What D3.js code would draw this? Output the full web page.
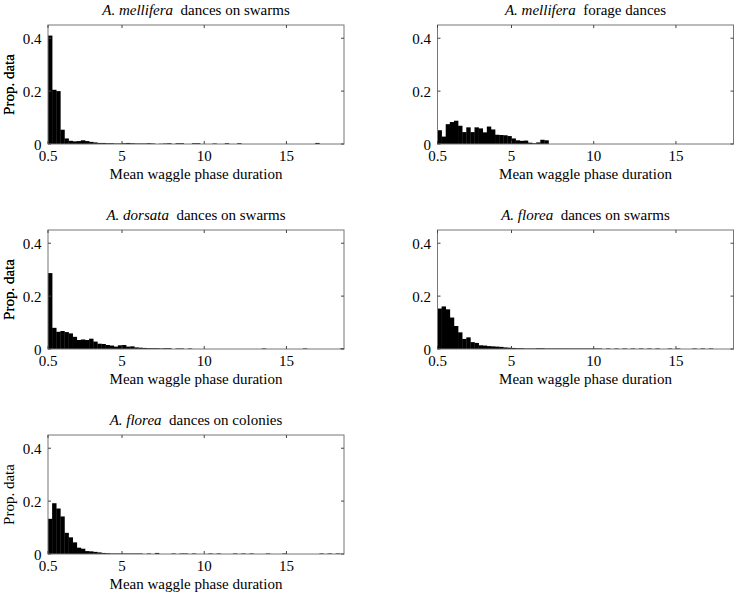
<!DOCTYPE html>
<html>
<head>
<meta charset="utf-8">
<script src="https://cdn.jsdelivr.net/npm/d3@7"></script>
<style>
  body { margin: 0; background: #fff; }
  svg text { font-family: "Liberation Serif", "DejaVu Serif", serif; fill: #000; }
</style>
</head>
<body>
<svg id="chart" width="737" height="597"></svg>
<script>
// histogram bins: 0.25 wide, starting at 0.5 (72 bins up to 18.5)
var binStart = 0.5, binWidth = 0.25;

var xTicks = [0.5, 5, 10, 15];
var yTicks = [0, 0.2, 0.4];
var yTickLabels = ['0', '0.2', '0.4'];

var melliferaSwarms = [
  0.41, 0.205, 0.20, 0.054, 0.021, 0.012, 0.010, 0.011, 0.014, 0.011,
  0.008, 0.006, 0.004, 0.004, 0.003, 0.003, 0.002, 0.002, 0.003, 0.004,
  0.003, 0.002, 0.002, 0.002, 0.003, 0.002, 0, 0.001, 0.002, 0.003,
  0, 0.003, 0.003, 0, 0, 0.003, 0.003, 0, 0, 0,
  0.002, 0, 0, 0.003, 0, 0, 0.003, 0, 0, 0,
  0, 0, 0, 0, 0, 0, 0, 0, 0, 0,
  0, 0, 0, 0, 0, 0.004, 0, 0, 0, 0,
  0, 0
];
var melliferaForage = [
  0.052, 0.028, 0.075, 0.083, 0.088, 0.069, 0.045, 0.063, 0.045, 0.063,
  0.059, 0.044, 0.066, 0.055, 0.035, 0.034, 0.033, 0.030, 0.021, 0.014,
  0.012, 0.013, 0.005, 0.003, 0.006, 0.016, 0.014, 0, 0, 0,
  0, 0, 0, 0, 0, 0, 0, 0, 0, 0,
  0, 0, 0, 0, 0, 0, 0, 0, 0, 0,
  0, 0, 0, 0, 0, 0, 0, 0, 0, 0,
  0, 0, 0, 0, 0, 0, 0, 0, 0, 0,
  0, 0
];
var dorsataSwarms = [
  0.287, 0.080, 0.065, 0.068, 0.064, 0.059, 0.046, 0.034, 0.036, 0.034,
  0.039, 0.028, 0.020, 0.019, 0.015, 0.013, 0.009, 0.014, 0.015, 0.009,
  0.010, 0.006, 0.005, 0.004, 0.003, 0.003, 0.003, 0.002, 0.003, 0.003,
  0, 0.002, 0.002, 0, 0.002, 0, 0, 0, 0, 0,
  0, 0, 0, 0, 0, 0, 0, 0, 0, 0,
  0, 0, 0.002, 0, 0, 0, 0, 0, 0, 0,
  0, 0, 0.002, 0, 0, 0, 0, 0, 0, 0,
  0, 0.002
];
var floreaSwarms = [
  0.153, 0.161, 0.150, 0.119, 0.087, 0.063, 0.038, 0.044, 0.026, 0.023,
  0.014, 0.013, 0.011, 0.010, 0.009, 0.008, 0.006, 0.005, 0.004, 0.003,
  0.003, 0.002, 0.002, 0.002, 0.003, 0.003, 0.002, 0.002, 0.002, 0.002,
  0.002, 0.002, 0.002, 0.002, 0.002, 0.002, 0.002, 0.002, 0.002, 0.002,
  0, 0.002, 0, 0.002, 0, 0.002, 0, 0.002, 0, 0.002,
  0, 0.002, 0, 0.002, 0, 0, 0.002, 0, 0.002, 0,
  0, 0, 0.002, 0, 0.002, 0, 0.002, 0, 0, 0,
  0, 0
];
var floreaColonies = [
  0.133, 0.192, 0.172, 0.142, 0.080, 0.063, 0.044, 0.024, 0.020, 0.011,
  0.010, 0.008, 0.006, 0.004, 0.003, 0.002, 0.002, 0.002, 0.002, 0.002,
  0.002, 0.002, 0.002, 0, 0.002, 0, 0.004, 0, 0, 0,
  0.002, 0, 0.002, 0.002, 0, 0.002, 0, 0, 0, 0.002,
  0, 0.002, 0, 0, 0, 0.002, 0, 0.002, 0, 0.002,
  0, 0, 0, 0.002, 0, 0, 0, 0.002, 0, 0,
  0, 0, 0, 0, 0, 0, 0.002, 0, 0.002, 0,
  0.002, 0
];

var panels = [
  {species: 'A. mellifera', rest: 'dances on swarms', values: melliferaSwarms, col: 0, row: 0},
  {species: 'A. mellifera', rest: 'forage dances', values: melliferaForage, col: 1, row: 0},
  {species: 'A. dorsata', rest: 'dances on swarms', values: dorsataSwarms, col: 0, row: 1},
  {species: 'A. florea', rest: 'dances on swarms', values: floreaSwarms, col: 1, row: 1},
  {species: 'A. florea', rest: 'dances on colonies', values: floreaColonies, col: 0, row: 2}
];

var colLeft = [48, 437.5];
var rowBottom = [144, 349, 554];
var w = 296, h = 119;
var tick = 3;

var svg = d3.select('#chart');

panels.forEach(function(p) {
  var left = colLeft[p.col];
  var top = rowBottom[p.row] - h;

  var x = d3.scaleLinear().domain([0.5, 18.5]).range([0, w]);
  var y = d3.scaleLinear().domain([0, 0.45]).range([h, 0]);

  var g = svg.append('g').attr('transform', 'translate(' + left + ',' + top + ')');

  // bars
  g.selectAll('rect.bar').data(p.values).enter().append('rect')
    .attr('class', 'bar')
    .attr('x', function(d, i) { return x(binStart + i * binWidth); })
    .attr('width', function(d, i) { return x(binStart + (i + 1) * binWidth) - x(binStart + i * binWidth) + 0.3; })
    .attr('y', function(d) { return y(d); })
    .attr('height', function(d) { return h - y(d); })
    .style('fill', '#000');

  // box
  g.append('rect')
    .attr('x', 0).attr('y', 0).attr('width', w).attr('height', h)
    .style('fill', 'none').style('stroke', '#777').style('stroke-width', 1);

  // inward ticks on all sides (matlab style)
  xTicks.forEach(function(t) {
    g.append('line').attr('x1', x(t)).attr('x2', x(t)).attr('y1', h).attr('y2', h - tick)
      .style('stroke', '#444');
    g.append('line').attr('x1', x(t)).attr('x2', x(t)).attr('y1', 0).attr('y2', tick)
      .style('stroke', '#444');
    g.append('text').attr('x', x(t)).attr('y', h + 17)
      .attr('text-anchor', 'middle').style('font-size', '15px').text(t);
  });
  yTicks.forEach(function(t, i) {
    g.append('line').attr('x1', 0).attr('x2', tick).attr('y1', y(t)).attr('y2', y(t))
      .style('stroke', '#444');
    g.append('line').attr('x1', w).attr('x2', w - tick).attr('y1', y(t)).attr('y2', y(t))
      .style('stroke', '#444');
    g.append('text').attr('x', -6.5).attr('y', y(t) + 5.5)
      .attr('text-anchor', 'end').style('font-size', '15px').text(yTickLabels[i]);
  });

  // labels
  g.append('text').attr('x', w / 2).attr('y', h + 34.5)
    .attr('text-anchor', 'middle').style('font-size', '15px').text('Mean waggle phase duration');
  g.append('text')
    .attr('transform', 'translate(' + (14 - left) + ',' + (h / 2) + ') rotate(-90)')
    .attr('text-anchor', 'middle').style('font-size', '15px').text('Prop. data');

  var title = g.append('text').attr('x', w / 2).attr('y', -10)
    .attr('text-anchor', 'middle').style('font-size', '15px');
  title.append('tspan').style('font-style', 'italic').text(p.species);
  title.append('tspan').text('\u00a0\u00a0' + p.rest);
});
</script>
</body>
</html>
